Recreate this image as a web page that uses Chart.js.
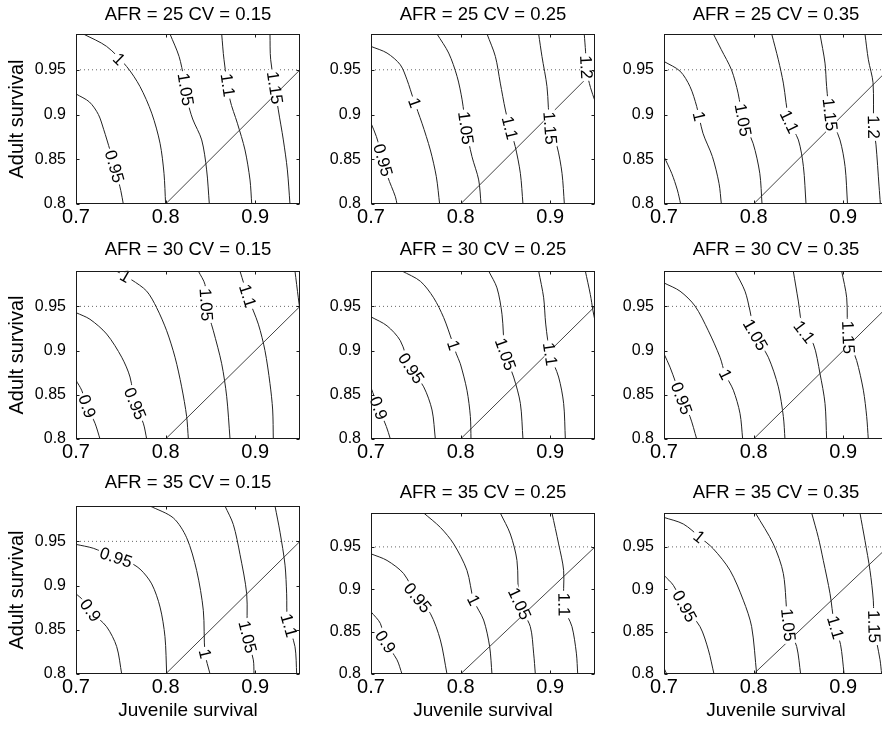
<!DOCTYPE html>
<html>
<head>
<meta charset="utf-8">
<script src="https://cdn.jsdelivr.net/npm/chart.js@4.4.1/dist/chart.umd.min.js"></script>
<style>
  html, body { margin: 0; padding: 0; background: #fff; }
  body { width: 882px; height: 729px; overflow: hidden; position: relative; }
  canvas { position: absolute; }
</style>
</head>
<body>
<script>
// panel parameters
var afrValues = [25, 30, 35];
var cvValues = [0.15, 0.25, 0.35];

// axes
var xTicks = [0.7, 0.8, 0.9];
var yTicks = [0.8, 0.85, 0.9, 0.95];
var xRange = [0.7, 0.95];
var yRange = [0.8, 0.99];
var refAdult = 0.95;
var diagonal = [[0.8, 0.8], [0.95, 0.95]];

// contours: [level, [[juvenile, adult], ...], adult value where the label sits]
var c25_15 = [
  [0.95, [[0.7, 0.923], [0.715, 0.914], [0.725, 0.9], [0.731, 0.883], [0.738, 0.86], [0.745, 0.835], [0.75, 0.815], [0.7528, 0.8]], 0.842],
  [1, [[0.7082, 0.99], [0.7342, 0.9761], [0.7565, 0.9537], [0.7714, 0.9313], [0.7845, 0.9015], [0.7938, 0.8679], [0.7982, 0.8343], [0.8, 0.8]], 0.962],
  [1.05, [[0.8049, 0.99], [0.815, 0.965], [0.8205, 0.94], [0.8245, 0.915], [0.8302, 0.895], [0.8403, 0.8716], [0.8458, 0.8381], [0.8488, 0.8]], 0.928],
  [1.1, [[0.8626, 0.99], [0.8652, 0.9612], [0.8719, 0.9164], [0.8801, 0.8903], [0.8886, 0.8604], [0.8942, 0.8269], [0.8961, 0.8]], 0.933],
  [1.15, [[0.9165, 0.99], [0.9173, 0.9612], [0.9258, 0.9052], [0.9314, 0.8716], [0.9359, 0.8381], [0.9388, 0.8]], 0.93]
];
var c25_25 = [
  [0.95, [[0.7, 0.8903], [0.706, 0.8754], [0.7123, 0.853], [0.7186, 0.8306], [0.7272, 0.8082], [0.729, 0.8]], 0.849],
  [1, [[0.7, 0.9761], [0.7179, 0.9687], [0.7327, 0.9556], [0.7402, 0.9388], [0.7476, 0.9164], [0.7569, 0.8903], [0.7662, 0.8604], [0.7729, 0.8306], [0.7766, 0.8]], 0.913],
  [1.05, [[0.7737, 0.99], [0.7867, 0.9687], [0.7961, 0.9425], [0.8017, 0.9164], [0.806, 0.885], [0.8127, 0.853], [0.8202, 0.8269], [0.8228, 0.8]], 0.885],
  [1.1, [[0.8295, 0.99], [0.8388, 0.9649], [0.8443, 0.9351], [0.85, 0.905], [0.855, 0.885], [0.861, 0.8642], [0.8667, 0.8343], [0.8696, 0.8]], 0.885],
  [1.15, [[0.8871, 0.99], [0.8908, 0.9649], [0.8964, 0.9313], [0.9, 0.885], [0.9077, 0.8642], [0.9132, 0.8343], [0.9158, 0.8]], 0.885],
  [1.2, [[0.938, 0.99], [0.9395, 0.97], [0.9405, 0.95], [0.945, 0.93], [0.95, 0.915]], 0.953]
];
var c25_35 = [
  [0.95, [[0.7, 0.853], [0.7086, 0.8343], [0.7149, 0.8157], [0.7186, 0.8]], null],
  [1, [[0.7, 0.9593], [0.7179, 0.9485], [0.729, 0.9313], [0.7365, 0.909], [0.7435, 0.8791], [0.754, 0.853], [0.7614, 0.8231], [0.764, 0.8]], 0.898],
  [1.05, [[0.7551, 0.99], [0.764, 0.9724], [0.7753, 0.95], [0.7827, 0.9239], [0.7882, 0.894], [0.7994, 0.8679], [0.8069, 0.8343], [0.8094, 0.8]], 0.894],
  [1.1, [[0.8202, 0.99], [0.8276, 0.9612], [0.8332, 0.9351], [0.8399, 0.8922], [0.85, 0.8716], [0.8556, 0.8418], [0.8585, 0.8]], 0.892],
  [1.15, [[0.8741, 0.99], [0.8797, 0.9575], [0.8815, 0.9313], [0.8853, 0.9], [0.8964, 0.8716], [0.9021, 0.8418], [0.9048, 0.8]], 0.9],
  [1.2, [[0.9243, 0.99], [0.9281, 0.9612], [0.9333, 0.9355], [0.934, 0.886], [0.9366, 0.8661], [0.94, 0.82], [0.9415, 0.8]], 0.886]
];
var c30_15 = [
  [0.9, [[0.7, 0.8664], [0.7063, 0.8552], [0.7126, 0.8366], [0.7212, 0.8179], [0.7268, 0.8]], 0.837],
  [0.95, [[0.7, 0.9429], [0.7156, 0.9354], [0.7342, 0.9187], [0.751, 0.8925], [0.7603, 0.8701], [0.7658, 0.8403], [0.7751, 0.8179], [0.7789, 0.8]], 0.84],
  [1, [[0.745, 0.99], [0.7621, 0.98], [0.7789, 0.9672], [0.79, 0.9485], [0.8012, 0.9224], [0.8105, 0.8925], [0.8179, 0.859], [0.8235, 0.8254], [0.8254, 0.8]], 0.984],
  [1.05, [[0.8365, 0.99], [0.844, 0.9746], [0.8455, 0.9504], [0.8533, 0.9224], [0.8626, 0.8851], [0.8682, 0.8478], [0.8719, 0.8]], 0.952],
  [1.1, [[0.883, 0.99], [0.8923, 0.9597], [0.9035, 0.9299], [0.9109, 0.9], [0.9165, 0.8627], [0.9195, 0.8328], [0.9202, 0.8]], 0.962],
  [1.15, [[0.9444, 0.99], [0.9481, 0.9597], [0.95, 0.9448]], null]
];
var c30_25 = [
  [0.9, [[0.7, 0.858], [0.7086, 0.8347], [0.7171, 0.8142], [0.7216, 0.8]], 0.835],
  [0.95, [[0.7, 0.9381], [0.7179, 0.928], [0.7327, 0.9112], [0.7439, 0.8813], [0.7588, 0.859], [0.7681, 0.8328], [0.7718, 0.8]], 0.88],
  [1, [[0.7346, 0.99], [0.7551, 0.9784], [0.7699, 0.9597], [0.7811, 0.9373], [0.7904, 0.9112], [0.7952, 0.8963], [0.7997, 0.8851], [0.8071, 0.8552], [0.8109, 0.8254], [0.8116, 0.8]], 0.906],
  [1.05, [[0.8313, 0.99], [0.8406, 0.9709], [0.8462, 0.9411], [0.8499, 0.8963], [0.8592, 0.8701], [0.8667, 0.8403], [0.8696, 0.8]], 0.896],
  [1.1, [[0.8871, 0.99], [0.8927, 0.9597], [0.895, 0.93], [0.9, 0.896], [0.9094, 0.8701], [0.915, 0.8403], [0.9169, 0.8]], 0.896],
  [1.15, [[0.9392, 0.99], [0.9448, 0.9634], [0.9478, 0.9448], [0.95, 0.9336]], null]
];
var c30_35 = [
  [0.95, [[0.7, 0.8963], [0.7067, 0.8813], [0.72, 0.845], [0.729, 0.8254], [0.7365, 0.8]], 0.846],
  [1, [[0.7, 0.9765], [0.7179, 0.9672], [0.7346, 0.9504], [0.7495, 0.9224], [0.7625, 0.8925], [0.7681, 0.8739], [0.7774, 0.8552], [0.7848, 0.8291], [0.7878, 0.8]], 0.873],
  [1.05, [[0.7792, 0.99], [0.7904, 0.9672], [0.796, 0.9448], [0.8016, 0.9187], [0.8164, 0.8925], [0.8276, 0.859], [0.8332, 0.8254], [0.835, 0.8]], 0.918],
  [1.1, [[0.8443, 0.99], [0.8499, 0.956], [0.8555, 0.9224], [0.8667, 0.9075], [0.8741, 0.8739], [0.8797, 0.8403], [0.8815, 0.8]], 0.921],
  [1.15, [[0.8983, 0.99], [0.9039, 0.9597], [0.9057, 0.9149], [0.915, 0.8888], [0.9225, 0.8552], [0.9262, 0.8254], [0.928, 0.8]], 0.915]
];
var c35_15 = [
  [0.9, [[0.7, 0.8907], [0.7082, 0.8832], [0.7175, 0.8701], [0.7342, 0.8534], [0.7454, 0.831], [0.751, 0.8]], 0.872],
  [0.95, [[0.7, 0.9466], [0.7193, 0.9422], [0.7379, 0.9343], [0.7565, 0.928], [0.7714, 0.9187], [0.7845, 0.9019], [0.7938, 0.8757], [0.7993, 0.8422], [0.8012, 0.8]], 0.932],
  [1, [[0.7826, 0.99], [0.8086, 0.9765], [0.8235, 0.9541], [0.8347, 0.9168], [0.8421, 0.872], [0.844, 0.8235], [0.8496, 0.8]], 0.823],
  [1.05, [[0.8663, 0.99], [0.8756, 0.969], [0.883, 0.9354], [0.8905, 0.8907], [0.8915, 0.8422], [0.8979, 0.816], [0.8987, 0.8]], 0.842],
  [1.1, [[0.9221, 0.99], [0.9277, 0.9604], [0.9333, 0.9231], [0.9351, 0.8907], [0.9361, 0.8608], [0.9444, 0.831], [0.9463, 0.8]], 0.855]
];
var c35_25 = [
  [0.9, [[0.7, 0.8734], [0.7104, 0.8598], [0.716, 0.8383], [0.729, 0.8168], [0.7346, 0.8]], 0.838],
  [0.95, [[0.7, 0.9418], [0.7179, 0.934], [0.7365, 0.9184], [0.7513, 0.891], [0.7662, 0.8715], [0.7774, 0.8402], [0.7848, 0.8]], 0.89],
  [1, [[0.7588, 0.99], [0.7774, 0.973], [0.7923, 0.9535], [0.8071, 0.9223], [0.8146, 0.8871], [0.8257, 0.8637], [0.8324, 0.8324], [0.835, 0.8]], 0.887],
  [1.05, [[0.8443, 0.99], [0.8555, 0.9652], [0.8629, 0.934], [0.8658, 0.8832], [0.8778, 0.8559], [0.8815, 0.8246], [0.8834, 0.8]], 0.883],
  [1.1, [[0.902, 0.99], [0.9094, 0.9535], [0.915, 0.9223], [0.9155, 0.8793], [0.9243, 0.8559], [0.9292, 0.8246], [0.9307, 0.8]], 0.882]
];
var c35_35 = [
  [0.9, [[0.7, 0.807], [0.703, 0.8]], null],
  [0.95, [[0.7, 0.9164], [0.7104, 0.9047], [0.7234, 0.8793], [0.7402, 0.8559], [0.7495, 0.8285], [0.7558, 0.8]], 0.88],
  [1, [[0.7, 0.9848], [0.7216, 0.977], [0.7402, 0.9613], [0.7551, 0.9477], [0.7737, 0.9223], [0.7885, 0.8871], [0.7978, 0.8559], [0.8034, 0.8]], 0.962],
  [1.05, [[0.802, 0.99], [0.822, 0.9535], [0.8332, 0.9184], [0.8388, 0.8578], [0.8481, 0.8324], [0.8525, 0.8]], 0.858],
  [1.1, [[0.8648, 0.99], [0.8722, 0.9613], [0.8778, 0.934], [0.8853, 0.8949], [0.89, 0.86], [0.897, 0.835], [0.901, 0.8]], 0.855],
  [1.15, [[0.9187, 0.99], [0.9243, 0.9574], [0.9299, 0.9223], [0.9336, 0.8871], [0.9345, 0.8559], [0.9411, 0.8168], [0.9429, 0.8]], 0.856]
];

var contourSets = [
  [c25_15, c25_25, c25_35],
  [c30_15, c30_25, c30_35],
  [c35_15, c35_25, c35_35]
];

// page layout (px) of each plot box
var colLeft = [76, 371, 664];
var boxTop = [[34, 34, 34], [271, 271, 271], [506, 513, 513]];
var boxHeight = [[170, 170, 170], [168, 168, 168], [168, 161, 161]];
var titleGap = [[19, 19, 19], [21, 21, 21], [23, 20, 20]];
var boxWidth = 224;

Chart.defaults.font.family = "'Liberation Sans', Arial, sans-serif";
Chart.defaults.color = "#000";

function levelText(v) {
  return String(v);
}

// contour labels, inline along the line with a gap cut out of it
var contourLabels = {
  id: "contourLabels",
  afterDatasetsDraw: function (chart, args, opts) {
    var ctx = chart.ctx, xs = chart.scales.x, ys = chart.scales.y;
    ctx.save();
    ctx.font = "17px 'Liberation Sans', Arial, sans-serif";
    ctx.textAlign = "center";
    ctx.textBaseline = "middle";
    opts.contours.forEach(function (ct) {
      var ly = ct[2];
      if (ly === null) return;
      var pts = ct[1];
      for (var i = 0; i < pts.length - 1; i++) {
        var a = pts[i], b = pts[i + 1];
        if ((ly <= a[1] && ly >= b[1]) || (ly >= a[1] && ly <= b[1])) {
          var t = a[1] === b[1] ? 0.5 : (ly - a[1]) / (b[1] - a[1]);
          var lx = a[0] + t * (b[0] - a[0]);
          var px = xs.getPixelForValue(lx), py = ys.getPixelForValue(ly);
          var dx = xs.getPixelForValue(b[0]) - xs.getPixelForValue(a[0]);
          var dy = ys.getPixelForValue(b[1]) - ys.getPixelForValue(a[1]);
          var ang = Math.atan2(dy, dx);
          if (ang > Math.PI * 0.56) ang -= Math.PI;
          if (ang < -Math.PI * 0.5) ang += Math.PI;
          var txt = levelText(ct[0]);
          var w = ctx.measureText(txt).width;
          ctx.save();
          ctx.translate(px, py);
          ctx.rotate(ang);
          ctx.fillStyle = "#fff";
          ctx.fillRect(-w / 2 - 2, -6, w + 4, 12);
          ctx.fillStyle = "#000";
          ctx.fillText(txt, 0, 1);
          ctx.restore();
          break;
        }
      }
    });
    ctx.restore();
  }
};

// axes box with inward tick marks
var boxFrame = {
  id: "boxFrame",
  afterDraw: function (chart) {
    var ctx = chart.ctx, a = chart.chartArea, xs = chart.scales.x, ys = chart.scales.y;
    var l = Math.round(a.left) + 0.5, r = Math.round(a.right) - 0.5;
    var t = Math.round(a.top) + 0.5, b = Math.round(a.bottom) - 0.5;
    ctx.save();
    ctx.strokeStyle = "#1a1a1a";
    ctx.lineWidth = 1;
    ctx.strokeRect(l, t, r - l, b - t);
    ctx.beginPath();
    xTicks.forEach(function (v) {
      var p = Math.round(xs.getPixelForValue(v)) + 0.5;
      ctx.moveTo(p, b); ctx.lineTo(p, b - 3);
      ctx.moveTo(p, t); ctx.lineTo(p, t + 3);
    });
    yTicks.forEach(function (v) {
      var p = Math.round(ys.getPixelForValue(v)) + 0.5;
      ctx.moveTo(l, p); ctx.lineTo(l + 3, p);
      ctx.moveTo(r, p); ctx.lineTo(r - 3, p);
    });
    ctx.stroke();
    ctx.restore();
  }
};

function makePanel(r, c) {
  var contours = contourSets[r][c];
  var h = boxHeight[r][c];
  var padTop = 40, axisW = 76, padRight = 16;
  var axisH = r === 2 ? 55 : 32;
  var W = axisW + boxWidth + padRight, H = padTop + h + axisH;
  var cv = document.createElement("canvas");
  cv.width = W; cv.height = H;
  cv.style.width = W + "px"; cv.style.height = H + "px";
  cv.style.left = (colLeft[c] - axisW) + "px";
  cv.style.top = (boxTop[r][c] - padTop) + "px";
  document.body.appendChild(cv);

  var datasets = contours.map(function (ct) {
    return {
      data: ct[1].map(function (p) { return { x: p[0], y: p[1] }; }),
      showLine: true, borderColor: "#222", borderWidth: 1,
      pointRadius: 0, tension: 0.3
    };
  });
  datasets.push({
    data: diagonal.map(function (p) { return { x: p[0], y: p[1] }; }),
    showLine: true, borderColor: "#444", borderWidth: 1, pointRadius: 0
  });
  datasets.push({
    data: [{ x: xRange[0], y: refAdult }, { x: xRange[1], y: refAdult }],
    showLine: true, borderColor: "#666", borderWidth: 1, borderDash: [1, 3], pointRadius: 0
  });

  var gap = titleGap[r][c];
  new Chart(cv, {
    type: "scatter",
    data: { datasets: datasets },
    options: {
      responsive: false,
      animation: false,
      devicePixelRatio: 1,
      layout: { padding: { top: 0, right: padRight, bottom: 0, left: 0 } },
      plugins: {
        legend: { display: false },
        tooltip: { enabled: false },
        title: {
          display: true,
          fullSize: false,
          text: "AFR = " + afrValues[r] + " CV = " + cvValues[c],
          font: { size: 18.5, weight: "normal" },
          color: "#000",
          padding: { top: padTop - gap - 11.1, bottom: gap - 11.1 }
        },
        contourLabels: { contours: contours }
      },
      scales: {
        x: {
          type: "linear", min: xRange[0], max: xRange[1],
          afterBuildTicks: function (s) { s.ticks = xTicks.map(function (v) { return { value: v }; }); },
          afterFit: function (s) { s.height = axisH; },
          grid: { display: false, drawTicks: false },
          border: { display: false },
          ticks: { font: { size: 20 }, padding: 1, maxRotation: 0, callback: function (v) { return String(v); } },
          title: { display: r === 2, text: "Juvenile survival", font: { size: 19 }, padding: { top: 0, bottom: 7 } }
        },
        y: {
          type: "linear", min: yRange[0], max: yRange[1],
          afterBuildTicks: function (s) { s.ticks = yTicks.map(function (v) { return { value: v }; }); },
          afterFit: function (s) { s.width = axisW; },
          grid: { display: false, drawTicks: false },
          border: { display: false },
          ticks: { font: { size: 16 }, padding: 10, callback: function (v) { return String(v); } },
          title: { display: c === 0, text: "Adult survival", font: { size: 20 }, padding: { top: 5, bottom: 0 } }
        }
      }
    },
    plugins: [contourLabels, boxFrame]
  });
}

for (var r = 0; r < 3; r++) {
  for (var c = 0; c < 3; c++) makePanel(r, c);
}
</script>
</body>
</html>
